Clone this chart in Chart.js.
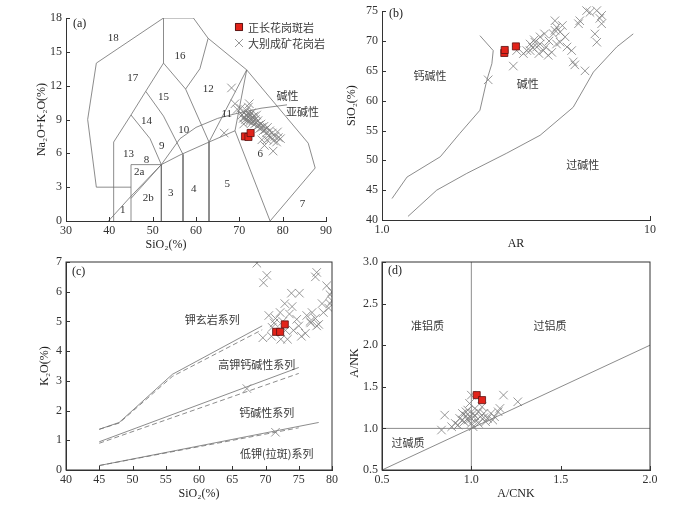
<!DOCTYPE html>
<html lang="zh-CN">
<head>
  <meta charset="UTF-8">
  <title>花岗岩地球化学判别图</title>
  <script src="https://cdn.jsdelivr.net/npm/chart.js"></script>
  <style>
    body { margin: 0; background: #fff; }
    #wrap { position: relative; width: 699px; height: 505px; }
    canvas { position: absolute; left: 0; top: 0; }
  </style>
</head>
<body>
  <div id="wrap">
    <canvas id="chartA" width="699" height="505"></canvas>
    <canvas id="chartB" width="699" height="505"></canvas>
    <canvas id="chartC" width="699" height="505"></canvas>
    <canvas id="chartD" width="699" height="505"></canvas>
  </div>

  <script>
    // ---- (a) TAS 图 (SiO2 vs Na2O+K2O) ----
    const tasTicksX = [30, 40, 50, 60, 70, 80, 90];
    const tasTicksY = [0, 3, 6, 9, 12, 15, 18];
    const tasLines = [
      [[45,3],[37,3],[35,9],[37,14],[52.5,18],[59.4,18],[62.8,16.2],[71.7,13.4],[85.9,6.9],[87.5,4.7],[77.1,0]],
      [[41,0],[41,7],[45,9.4],[48.4,11.5],[52.5,14],[52.5,18]],
      [[45,9.4],[49.4,7.3],[52,5]],
      [[45,0],[45,5],[52,5],[52,0]],
      [[45,2],[52,5],[56.3,5.85],[63,7],[69,8]],
      [[48.4,11.5],[52.5,9.3],[57,5.9],[57,0]],
      [[52.5,14],[57.6,11.7],[63,7],[63,0]],
      [[57.6,11.7],[60.9,13.5],[62.8,16.2]],
      [[63,7],[71.7,13.4]],
      [[71.7,13.4],[69,8],[77.1,0]]
    ];
    const tasAlkaliLine = [[39.8,0],[45,2.2],[52,5],[56.3,7.3],[60,8.3],[65,9.1],[69,9.5],[75,10],[81,10.3]];
    const tasFieldLabels = [
      ['18',40.9,16.2],['17',45.4,12.65],['16',56.3,14.6],['15',52.5,11.0],['14',48.6,8.9],
      ['13',44.4,5.9],['12',62.8,11.7],['11',67.1,9.5],['10',57.2,8.1],['9',52.1,6.6],
      ['8',48.6,5.4],['2a',46.9,4.3],['2b',49.0,2.0],['1',43.1,1.0],['3',54.2,2.5],
      ['4',59.5,2.8],['5',67.2,3.3],['6',74.8,5.9],['7',84.6,1.5]
    ];
    const tasSeriesLabels = [['碱性',81.1,11.1],['亚碱性',84.6,9.7]];
    const tasPorphyry = [[71.3,7.5],[72.1,7.45],[72.6,7.8]];
    const tasGranite = [
      [66.5,7.8],[68.2,11.8],[69,10.4],[69.5,9.9],[75.2,7.2],[77.8,6.2],[79.5,7.3],
      [70.6,9.4],[70.9,9.1],[71.1,9.6],[71.2,9.2],[71.4,9.0],[71.5,9.4],[71.6,9.8],[71.8,9.3],
      [71.9,8.9],[72.0,9.5],[72.1,10.1],[72.2,9.2],[72.4,8.8],[72.5,9.4],[72.6,9.0],[72.8,9.6],
      [72.9,8.7],[73.0,9.2],[73.2,8.9],[73.4,9.3],[73.5,8.6],[73.7,9.0],[73.9,8.7],[74.1,8.4],
      [74.3,8.9],[74.5,8.5],[74.7,8.2],[75.0,8.6],[75.2,8.3],[75.5,8.0],[75.7,8.4],[76.0,8.1],
      [76.2,7.8],[76.5,8.3],[76.8,7.6],[77.0,8.0],[77.3,7.4],[77.6,7.8],[77.9,7.1],[78.2,7.5],
      [78.6,7.0],[79.0,7.4],[78.8,7.9],[76.4,7.2],[75.8,6.7],[70.3,10.0],[72.3,10.4],[74.0,9.4],[71.0,8.6]
    ];

    // ---- (b) AR vs SiO2 ----
    const arTicksX = [1, 10];
    const arTicksY = [40, 45, 50, 55, 60, 65, 70, 75];
    const arCalcAlkaline = [[1.09,43.6],[1.24,47.2],[1.65,50.6],[1.95,54.5],[2.32,58.4],[2.46,63.4],[2.57,66.2],[2.6,68.4],[2.32,70.9]];
    const arPeralkaline = [[1.25,40.6],[1.6,45],[2.07,47.8],[2.92,51.2],[3.89,54.2],[5.17,58.9],[6.15,64.8],[7.51,69],[8.66,71.2]];
    const arLabels = [['钙碱性',1.51,64.1],['碱性',3.5,62.9],['过碱性',5.61,49.2]];
    const arPorphyry = [[2.86,68.0],[2.87,68.5],[3.16,69.1]];
    const arGranite = [
      [2.49,63.5],[3.09,65.8],[4.42,73.4],[4.48,72.3],[4.36,71.2],[4.62,71.5],[5.41,72.9],[5.47,73.4],
      [5.97,74.8],[6.33,75.1],[6.6,74.3],[6.6,72.9],[6.5,73.8],[6.23,71.2],[6.33,69.8],[5.17,66.5],
      [5.24,66.0],[5.72,65.0],[3.57,69.5],[3.72,69.8],[3.65,68.9],[3.89,70.7],[4.0,68.4],[4.08,69.0],
      [4.2,70.0],[4.48,69.5],[4.62,69.8],[4.82,70.7],[4.9,69.0],[5.1,68.4],[3.37,67.9],[3.47,68.4],
      [3.85,67.9],[3.18,68.4],[4.17,67.6],[4.42,71.8],[4.71,72.6],[3.89,69.5],[3.78,69.0],[3.57,68.4],
      [4.04,71.2],[5.8,75.1],[3.7,70.2],[4.3,68.1]
    ];

    // ---- (c) SiO2 vs K2O ----
    const kTicksX = [40, 45, 50, 55, 60, 65, 70, 75, 80];
    const kTicksY = [0, 1, 2, 3, 4, 5, 6, 7];
    const kSolid = [
      [[45,1.37],[48,1.6],[56,3.22],[69.5,4.85]],
      [[45,0.95],[75,3.45]],
      [[45,0.15],[78,1.6]]
    ];
    const kDashed = [
      [[45,1.37],[48,1.58],[56,3.15],[69.5,4.72]],
      [[45,0.9],[75,3.25]],
      [[45,0.15],[75,1.42]]
    ];
    const kLabels = [['钾玄岩系列',62.0,5.06],['高钾钙碱性系列',68.7,3.54],['钙碱性系列',70.2,1.91],['低钾(拉斑)系列',71.7,0.54]];
    const kPorphyry = [[71.6,4.65],[72.2,4.65],[72.9,4.9]];
    const kGranite = [
      [68.7,6.96],[69.7,6.3],[70.2,6.55],[69.6,4.45],[67.2,2.74],[71.5,1.27],
      [77.7,6.65],[77.5,6.5],[79.2,6.2],[79.7,5.9],[73.9,5.95],[75.1,5.95],[72.9,5.6],[73.6,5.25],
      [72.2,5.3],[74.7,5.07],[76.2,5.2],[76.7,5.0],[77.5,5.1],[77.7,4.85],[78.7,5.3],[79.7,5.6],
      [71.5,5.1],[71.3,4.95],[74.2,4.7],[75.4,4.5],[73.3,4.4],[72.3,4.4],[70.9,4.5],[80,5.7],
      [78.5,5.6],[80,6.0],[79.5,5.45],[70.5,5.2],[71.0,4.8],[73.0,4.7],[76.0,4.6],[75.0,4.85],
      [78.0,4.9],[74.0,5.5],[77.0,5.3],[76.8,4.95],[72.6,5.0]
    ];

    // ---- (d) A/CNK vs A/NK ----
    const acnkTicksX = [0.5, 1.0, 1.5, 2.0];
    const acnkTicksY = [0.5, 1.0, 1.5, 2.0, 2.5, 3.0];
    const acnkLines = [
      [[1,0.5],[1,3]],
      [[0.5,1],[2,1]],
      [[0.5,0.5],[2,2]]
    ];
    const acnkLabels = [['准铝质',0.754,2.23],['过铝质',1.44,2.23],['过碱质',0.646,0.83]];
    const acnkPorphyry = [[1.03,1.40],[1.06,1.34]];
    const acnkGranite = [
      [0.851,1.16],[0.833,0.98],[1.0,1.40],[1.18,1.40],[1.26,1.32],[0.935,1.12],[0.95,1.18],
      [0.97,1.20],[0.98,1.10],[0.99,1.14],[1.01,1.18],[1.03,1.10],[1.05,1.14],[1.07,1.18],
      [1.09,1.12],[1.11,1.18],[1.13,1.14],[1.15,1.20],[1.16,1.24],[1.06,1.26],[1.02,1.24],
      [0.91,1.06],[0.89,1.02],[0.925,1.04],[0.96,1.08],[1.0,1.06],[1.04,1.06],[1.08,1.08],
      [1.01,1.02],[0.99,1.30],[0.97,1.15],[1.0,1.12],[1.02,1.15],[0.98,1.22],[1.04,1.20],
      [0.95,1.10],[1.12,1.10],[1.07,1.13]
    ];

    const SERIF = '"Liberation Serif", "DejaVu Serif", serif';
    const CJK = '"Noto Sans CJK SC", sans-serif';
    const W = 699, H = 505;

    const pts = arr => arr.map(p => ({ x: p[0], y: p[1] }));
    const lineSet = (arr, dash) => ({
      data: pts(arr), showLine: true, pointRadius: 0, borderColor: '#6e6e6e',
      borderWidth: 0.8, borderDash: dash ? [5, 3] : [], tension: 0, fill: false
    });
    const crossSet = (arr, clip) => ({
      data: pts(arr), pointStyle: 'crossRot', pointRadius: 6, borderColor: '#7c7c7c',
      borderWidth: 0.8, clip: clip
    });
    const squareSet = arr => ({
      data: pts(arr), pointStyle: 'rect', pointRadius: 5, backgroundColor: '#e2231a',
      borderColor: '#5a1212', borderWidth: 0.8, clip: false
    });

    // 内向刻度、边框、文字、坐标轴标题
    const decor = {
      id: 'decor',
      afterDraw(chart, args, o) {
        const { ctx, chartArea: a, scales: { x, y } } = chart;
        ctx.save();
        ctx.strokeStyle = '#333';
        ctx.lineWidth = 1;
        if (o.box) ctx.strokeRect(a.left, a.top, a.right - a.left, a.bottom - a.top);
        ctx.beginPath();
        o.xTicks.forEach(v => {
          const px = Math.round(x.getPixelForValue(v)) + 0.5;
          ctx.moveTo(px, a.bottom); ctx.lineTo(px, a.bottom - 4);
        });
        o.yTicks.forEach(v => {
          const py = Math.round(y.getPixelForValue(v)) + 0.5;
          ctx.moveTo(a.left, py); ctx.lineTo(a.left + 4, py);
        });
        ctx.stroke();

        ctx.textAlign = 'center';
        ctx.textBaseline = 'middle';
        (o.numbers || []).forEach(t => {
          ctx.font = '11px ' + SERIF; ctx.fillStyle = '#333';
          ctx.fillText(t[0], x.getPixelForValue(t[1]), y.getPixelForValue(t[2]));
        });
        (o.texts || []).forEach(t => {
          ctx.font = '11px ' + CJK; ctx.fillStyle = '#3a3a3a';
          ctx.fillText(t[0], x.getPixelForValue(t[1]), y.getPixelForValue(t[2]));
        });

        // 面板编号
        ctx.font = '12px ' + SERIF; ctx.fillStyle = '#222'; ctx.textAlign = 'left';
        ctx.fillText(o.tag[0], a.left + o.tag[1], a.top + o.tag[2]);

        // 坐标轴标题
        ctx.textAlign = 'center';
        ctx.font = '12px ' + SERIF; ctx.fillStyle = '#222';
        ctx.fillText(o.xTitle, (a.left + a.right) / 2 + o.xTitleDx, a.bottom + 24);
        ctx.save();
        ctx.translate(a.left - o.yTitleDx, (a.top + a.bottom) / 2 + o.yTitleDy);
        ctx.rotate(-Math.PI / 2);
        ctx.fillText(o.yTitle, 0, 0);
        ctx.restore();

        // 图例
        if (o.legend) {
          const lx = a.left + 173, ly = a.top + 9;
          Chart.helpers.drawPoint(ctx, { pointStyle: 'rect', radius: 5, borderWidth: 0.8 }, lx, ly);
          ctx.fillStyle = '#e2231a'; ctx.strokeStyle = '#5a1212'; ctx.lineWidth = 0.8;
          ctx.beginPath(); ctx.rect(lx - 3.5, ly - 3.5, 7, 7); ctx.fill(); ctx.stroke();
          ctx.strokeStyle = '#7c7c7c';
          ctx.beginPath();
          ctx.moveTo(lx - 4, ly + 12); ctx.lineTo(lx + 4, ly + 20);
          ctx.moveTo(lx + 4, ly + 12); ctx.lineTo(lx - 4, ly + 20);
          ctx.stroke();
          ctx.font = '11px ' + CJK; ctx.fillStyle = '#3a3a3a'; ctx.textAlign = 'left';
          ctx.fillText('正长花岗斑岩', lx + 9, ly + 0.5);
          ctx.fillText('大别成矿花岗岩', lx + 9, ly + 16.5);
        }
        ctx.restore();
      }
    };

    function axis(min, max, ticks, fmt, isX, type) {
      return {
        type: type || 'linear', min, max,
        afterBuildTicks: s => { s.ticks = ticks.map(v => ({ value: v })); },
        afterFit: s => { if (isX) s.height = 30; else s.width = 40; },
        ticks: {
          callback: fmt, autoSkip: false, maxRotation: 0, padding: isX ? 3 : 4,
          color: '#333', font: { family: SERIF, size: 12 }
        },
        grid: { display: false, drawTicks: false },
        border: { display: true, color: '#333', width: 1 }
      };
    }

    function panel(id, area, datasets, scales, deco) {
      new Chart(document.getElementById(id), {
        type: 'scatter',
        data: { datasets },
        options: {
          responsive: false, animation: false,
          layout: { padding: { left: area[0] - 40, right: W - area[1], top: area[2], bottom: H - area[3] - 30 } },
          scales,
          plugins: { legend: { display: false }, tooltip: { enabled: false }, decor: deco }
        },
        plugins: [decor]
      });
    }

    const plain = v => String(v);
    const oneDec = v => v.toFixed(1);

    panel('chartA', [66, 326, 18, 221],
      [squareSet(tasPorphyry), crossSet(tasGranite, false), lineSet(tasAlkaliLine)].concat(tasLines.map(l => lineSet(l))),
      { x: axis(30, 90, tasTicksX, plain, true), y: axis(0, 18, tasTicksY, plain, false) },
      { xTicks: tasTicksX, yTicks: tasTicksY, numbers: tasFieldLabels, texts: tasSeriesLabels, tag: ['(a)', 7, 6],
        xTitle: 'SiO₂(%)', xTitleDx: -30, yTitle: 'Na₂O+K₂O(%)', yTitleDx: 24, yTitleDy: 0, legend: true });

    panel('chartB', [382, 650, 11, 220],
      [squareSet(arPorphyry), crossSet(arGranite, false), lineSet(arCalcAlkaline), lineSet(arPeralkaline)],
      { x: axis(1, 10, arTicksX, v => (v === 1 ? '1.0' : '10'), true, 'logarithmic'),
        y: axis(40, 75, arTicksY, plain, false) },
      { xTicks: arTicksX, yTicks: arTicksY, texts: arLabels, tag: ['(b)', 7, 3],
        xTitle: 'AR', xTitleDx: 0, yTitle: 'SiO₂(%)', yTitleDx: 30, yTitleDy: -10 });

    panel('chartC', [66, 332, 262, 470],
      [squareSet(kPorphyry), crossSet(kGranite, true)]
        .concat(kSolid.map(l => lineSet(l)), kDashed.map(l => lineSet(l, true))),
      { x: axis(40, 80, kTicksX, plain, true), y: axis(0, 7, kTicksY, plain, false) },
      { box: true, xTicks: kTicksX, yTicks: kTicksY, texts: kLabels, tag: ['(c)', 6, 10],
        xTitle: 'SiO₂(%)', xTitleDx: 0, yTitle: 'K₂O(%)', yTitleDx: 21, yTitleDy: 0 });

    panel('chartD', [382, 650, 262, 470],
      [squareSet(acnkPorphyry), crossSet(acnkGranite, true)].concat(acnkLines.map(l => lineSet(l))),
      { x: axis(0.5, 2.0, acnkTicksX, oneDec, true), y: axis(0.5, 3.0, acnkTicksY, oneDec, false) },
      { box: true, xTicks: acnkTicksX, yTicks: acnkTicksY, texts: acnkLabels, tag: ['(d)', 6, 9],
        xTitle: 'A/CNK', xTitleDx: 0, yTitle: 'A/NK', yTitleDx: 27, yTitleDy: -3 });
  </script>
</body>
</html>
